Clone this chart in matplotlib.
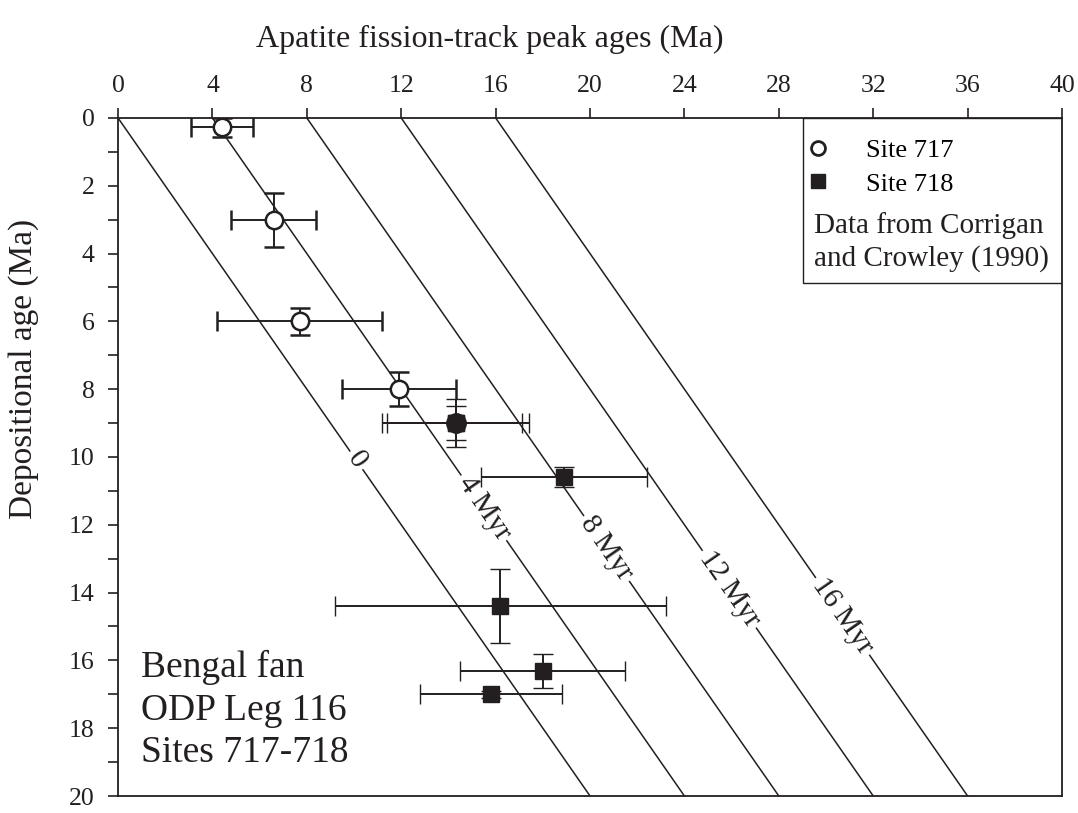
import numpy as np
import matplotlib
matplotlib.use("Agg")
import matplotlib.pyplot as plt
from matplotlib.lines import Line2D
from matplotlib.patches import Rectangle

plt.rcParams['font.family'] = ['Liberation Serif', 'DejaVu Serif']

INK = '#231f20'

# Site 717 (open circles): peak age, depositional age and error-bar bounds
x717 = [4.4, 6.6, 7.7, 11.9]
y717 = [0.27, 3.0, 6.0, 8.0]
x717_lo = [3.1, 4.8, 4.2, 9.5]
x717_hi = [5.7, 8.4, 11.2, 14.3]
y717_lo = [0.0, 2.2, 5.6, 7.5]
y717_hi = [0.55, 3.8, 6.4, 8.5]

# Site 718 (filled squares)
x718 = [14.3, 14.3, 18.9, 16.2, 18.0, 15.8]
y718 = [9.0, 9.0, 10.6, 14.4, 16.3, 17.0]
x718_lo = [11.2, 11.4, 15.4, 9.2, 14.5, 12.8]
x718_hi = [17.1, 17.4, 22.4, 23.2, 21.5, 18.8]
y718_lo = [8.3, 8.5, 10.3, 13.3, 15.8, 16.9]
y718_hi = [9.7, 9.5, 10.9, 15.5, 16.8, 17.1]

# lag-time lines and where their labels sit (depositional age)
lag_times = [0, 4, 8, 12, 16]
lag_labels = ['0', '4 Myr', '8 Myr', '12 Myr', '16 Myr']
label_depths = [10.1, 11.5, 12.7, 13.9, 14.7]

x_ticks = list(range(0, 41, 4))
y_ticks = list(range(0, 21, 2))


def bars(x, y, xlo, xhi, ylo, yhi):
    x, y = np.array(x), np.array(y)
    xerr = [x - np.array(xlo), np.array(xhi) - x]
    yerr = [y - np.array(ylo), np.array(yhi) - y]
    return x, y, xerr, yerr


fig = plt.figure(figsize=(10.78, 8.13), dpi=100)
ax = fig.add_axes([0.1095, 0.0209, 0.8757, 0.834])
ax.set_xlim(0, 40)
ax.set_ylim(20, 0)

# lag lines: peak age = depositional age + lag
depo = np.array([0, 20])
for lag in lag_times:
    ax.plot(depo + lag, depo, color=INK, lw=1.1, zorder=1)

p1 = ax.transData.transform((0, 0))
p2 = ax.transData.transform((1, 1))
ang = np.degrees(np.arctan2(p2[1] - p1[1], p2[0] - p1[0]))
for lag, lab, d in zip(lag_times, lag_labels, label_depths):
    ax.text(d + lag, d, lab, rotation=ang, rotation_mode='anchor',
            ha='center', va='center', fontsize=21, color=INK, zorder=2,
            bbox=dict(boxstyle='square,pad=0.12', fc='white', ec='none'))

x, y, xerr, yerr = bars(x717, y717, x717_lo, x717_hi, y717_lo, y717_hi)
ax.errorbar(x, y, xerr=xerr, yerr=yerr, fmt='o', ms=12.5, mfc='white',
            mec=INK, mew=1.8, ecolor=INK, elinewidth=1.4, capsize=7.5,
            capthick=1.4, zorder=4)

x, y, xerr, yerr = bars(x718, y718, x718_lo, x718_hi, y718_lo, y718_hi)
ax.errorbar(x, y, xerr=xerr, yerr=yerr, fmt='s', ms=11, mfc=INK,
            mec=INK, mew=1, ecolor=INK, elinewidth=1.4, capsize=7.5,
            capthick=1.4, zorder=4)
# the two overlapping samples at 9 Ma look round in the original
ax.plot(x718[1], y718[1], 'o', ms=14, color=INK, zorder=5)

# axes styling
ax.xaxis.tick_top()
ax.set_xticks(x_ticks)
ax.set_yticks(y_ticks)
ax.set_yticks(range(1, 20, 2), minor=True)
ax.tick_params(axis='both', which='both', direction='out', length=7,
               width=1.2, color=INK, labelsize=18.5, labelcolor=INK)
ax.tick_params(axis='x', pad=8)
ax.tick_params(axis='y', pad=10)
for s in ax.spines.values():
    s.set_color(INK)
    s.set_linewidth(1.3)

fig.text(0.4545, 0.952, 'Apatite fission-track peak ages (Ma)',
         ha='center', va='center', fontsize=23, color=INK)
fig.text(0.022, 0.546, 'Depositional age (Ma)', rotation=90,
         ha='center', va='center', fontsize=24, color=INK)

# legend box
ax.add_patch(Rectangle((0.7256, 0.7566), 0.2744, 0.2434,
                       transform=ax.transAxes, fill=False, ec=INK,
                       lw=1.0, zorder=6))
handles = [
    Line2D([], [], ls='none', marker='o', ms=10, mfc='white', mec=INK, mew=2),
    Line2D([], [], ls='none', marker='s', ms=10, mfc=INK, mec=INK),
]
ax.legend(handles, ['Site 717', 'Site 718'], loc='upper left',
          bbox_to_anchor=(0.7165, 0.985), frameon=False, fontsize=19,
          handlelength=1.0, handletextpad=1.3, labelspacing=0.38,
          borderaxespad=0.0)
ax.text(0.7375, 0.773, 'Data from Corrigan\nand Crowley (1990)',
        transform=ax.transAxes, ha='left', va='bottom', fontsize=21,
        color=INK, linespacing=1.3, zorder=7)

ax.text(0.024, 0.038, 'Bengal fan\nODP Leg 116\nSites 717-718',
        transform=ax.transAxes, ha='left', va='bottom', fontsize=27,
        color=INK, linespacing=1.3)

fig.savefig('out.png', dpi=100)
